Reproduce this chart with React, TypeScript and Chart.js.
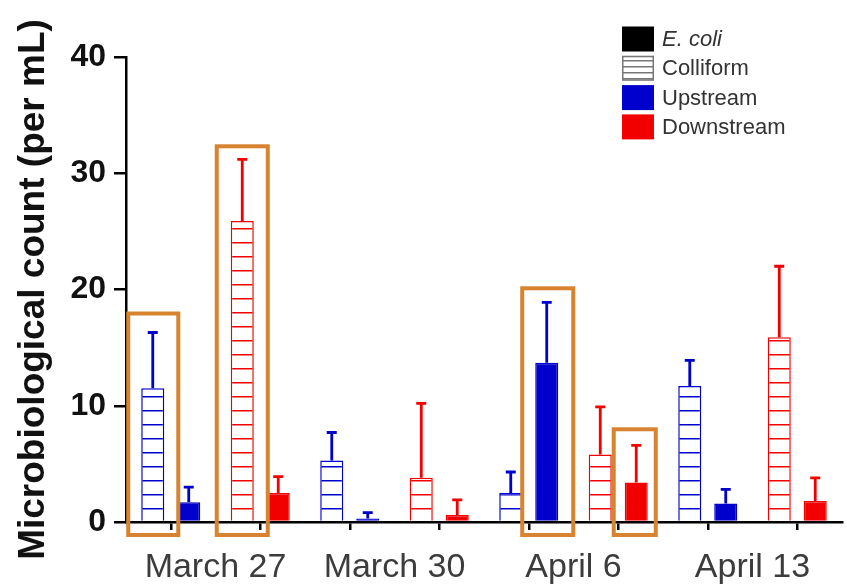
import React, { useEffect, useRef } from 'react';
import { Chart, registerables } from 'chart.js';

Chart.register(...registerables);

// ---- data ----
const dates = ['March 27', 'March 30', 'April 6', 'April 13'];
const sites = ['Upstream', 'Downstream'];
const coliform = [11.5, 25.9, 5.3, 3.8, 2.5, 5.8, 11.7, 15.9];
const coliformErr = [4.8, 5.3, 2.4, 6.4, 1.8, 4.1, 2.2, 6.1];
const ecoli = [1.7, 2.5, 0.3, 0.6, 13.7, 3.4, 1.6, 1.8];
const ecoliErr = [1.3, 1.4, 0.5, 1.3, 5.2, 3.2, 1.2, 2.0];
const yTicks = [0, 10, 20, 30, 40];
const legendLabels = ['E. coli', 'Colliform', 'Upstream', 'Downstream'];
// highlighted bars: [category index, dataset index (0 = coliform, 1 = E. coli)]
const highlightBars = [
  [0, 0],
  [1, 0],
  [4, 1],
  [5, 1],
];

// ---- styles ----
const BLUE = '#0000CC';
const RED = '#F20000';
const GRAY = '#777777';
const ORANGE = '#D8832F';
const HL_PAD = [
  [13, 14],
  [14, 14],
  [13, 15],
  [11, 8],
];
const HL_TOP = [19, 13, 14, 16];

function makeHatch(ctx: CanvasRenderingContext2D, color: string, spacing: number, offsetY: number) {
  const c = document.createElement('canvas');
  c.width = 8;
  c.height = spacing;
  const g = c.getContext('2d')!;
  g.fillStyle = '#ffffff';
  g.fillRect(0, 0, 8, spacing);
  g.fillStyle = color;
  g.fillRect(0, 0, 8, 1.5);
  const p = ctx.createPattern(c, 'repeat')!;
  try {
    p.setTransform(new DOMMatrix([1, 0, 0, 1, 0, offsetY]));
  } catch (e) {}
  return p;
}

export default function App() {
  const ref = useRef<HTMLCanvasElement>(null);

  useEffect(() => {
    const canvas = ref.current!;
    const ctx = canvas.getContext('2d')!;
    const spacing = 14;
    const blueHatch = makeHatch(ctx, BLUE, spacing, 522 % spacing);
    const redHatch = makeHatch(ctx, RED, spacing, 522 % spacing);
    const grayHatch = makeHatch(ctx, GRAY, 6, 0);

    const labels = dates.flatMap((d) => sites.map((s) => `${d} ${s}`));
    const values = [coliform, ecoli];
    const errs = [coliformErr, ecoliErr];
    const siteColor = (i: number) => (i % 2 ? RED : BLUE);

    const errorBars = {
      id: 'errorBars',
      afterDatasetsDraw(chart: any) {
        const c = chart.ctx;
        const y = chart.scales.y;
        c.save();
        values.forEach((vals, di) => {
          const meta = chart.getDatasetMeta(di);
          meta.data.forEach((el: any, i: number) => {
            const yTop = y.getPixelForValue(vals[i] + errs[di][i]);
            c.strokeStyle = siteColor(i);
            c.lineWidth = 2.8;
            c.lineCap = 'butt';
            c.beginPath();
            c.moveTo(el.x, el.y);
            c.lineTo(el.x, yTop);
            c.moveTo(el.x - 5, yTop);
            c.lineTo(el.x + 5, yTop);
            c.stroke();
          });
        });
        c.restore();
      },
    };

    const extras = {
      id: 'extras',
      afterDraw(chart: any) {
        const c = chart.ctx;
        const x = chart.scales.x;
        const y = chart.scales.y;
        const area = chart.chartArea;
        c.save();
        // group labels
        c.font = '34px "Liberation Sans", Arial, sans-serif';
        c.fillStyle = '#3c3c3c';
        c.textAlign = 'center';
        c.textBaseline = 'alphabetic';
        dates.forEach((d, g) => {
          const px = (x.getPixelForValue(2 * g) + x.getPixelForValue(2 * g + 1)) / 2;
          c.fillText(d, px, 577);
        });
        // highlight boxes
        c.strokeStyle = ORANGE;
        c.lineWidth = 4;
        highlightBars.forEach(([cat, di], k) => {
          const el: any = chart.getDatasetMeta(di).data[cat];
          const top = y.getPixelForValue(values[di][cat] + errs[di][cat]) - HL_TOP[k];
          const left = el.x - el.width / 2 - HL_PAD[k][0];
          const right = el.x + el.width / 2 + HL_PAD[k][1];
          const bottom = area.bottom + 13;
          c.strokeRect(left, top, right - left, bottom - top);
        });
        // legend
        const fills = ['#000000', grayHatch, BLUE, RED];
        const lx = 622;
        legendLabels.forEach((lab, i) => {
          const cy = 39 + 29.3 * i;
          c.fillStyle = fills[i] as any;
          c.fillRect(lx, cy - 12.5, 32, 25);
          if (i === 1) {
            c.strokeStyle = GRAY;
            c.lineWidth = 1.5;
            c.strokeRect(lx + 0.75, cy - 11.75, 30.5, 23.5);
          }
          c.fillStyle = '#333333';
          c.textAlign = 'left';
          c.textBaseline = 'middle';
          c.font = (i === 0 ? 'italic ' : '') + '22px "Liberation Sans", Arial, sans-serif';
          c.fillText(lab, 662, cy + 1);
        });
        c.restore();
      },
    };

    const chart = new Chart(canvas, {
      type: 'bar',
      data: {
        labels,
        datasets: [
          {
            label: 'Colliform',
            data: coliform,
            backgroundColor: labels.map((_, i) => (i % 2 ? redHatch : blueHatch)) as any,
            borderColor: labels.map((_, i) => siteColor(i)),
            borderWidth: 1.5,
            categoryPercentage: 0.804,
            barPercentage: 0.64,
          },
          {
            label: 'E. coli',
            data: ecoli,
            backgroundColor: labels.map((_, i) => siteColor(i)),
            borderColor: labels.map((_, i) => siteColor(i)),
            borderWidth: 1.5,
            categoryPercentage: 0.804,
            barPercentage: 0.64,
          },
        ],
      },
      options: {
        responsive: false,
        animation: false,
        layout: { padding: { top: 57, right: 5, left: 0, bottom: 0 } },
        plugins: { legend: { display: false }, tooltip: { enabled: false } },
        scales: {
          x: {
            grid: {
              offset: false,
              drawOnChartArea: false,
              drawTicks: true,
              tickLength: 8,
              color: '#000',
              lineWidth: 2.5,
            },
            border: { display: true, color: '#000', width: 2.5 },
            ticks: { display: false },
            afterFit: (s: any) => {
              s.height = 65;
            },
          },
          y: {
            min: 0,
            max: 40,
            afterBuildTicks: (s: any) => {
              s.ticks = yTicks.map((v) => ({ value: v }));
            },
            ticks: {
              font: { family: '"Liberation Sans", Arial, sans-serif', size: 32, weight: 'bold' },
              color: '#111',
              padding: 8,
            },
            grid: { drawOnChartArea: false, tickLength: 12, color: '#000', lineWidth: 2.5 },
            border: { display: true, color: '#000', width: 2.5 },
            title: {
              display: true,
              text: 'Microbiological count (per mL)',
              font: { family: '"Liberation Sans", Arial, sans-serif', size: 37, weight: 'bold' },
              color: '#111',
              padding: { top: 12, bottom: 0 },
            },
            afterFit: (s: any) => {
              s.width = 126;
            },
          },
        },
      },
      plugins: [errorBars, extras],
    } as any);

    return () => chart.destroy();
  }, []);

  return (
    <div style={{ position: 'fixed', left: 0, top: 0, width: 847, height: 587, background: '#fff' }}>
      <canvas ref={ref} width={847} height={587} style={{ display: 'block' }} />
    </div>
  );
}
